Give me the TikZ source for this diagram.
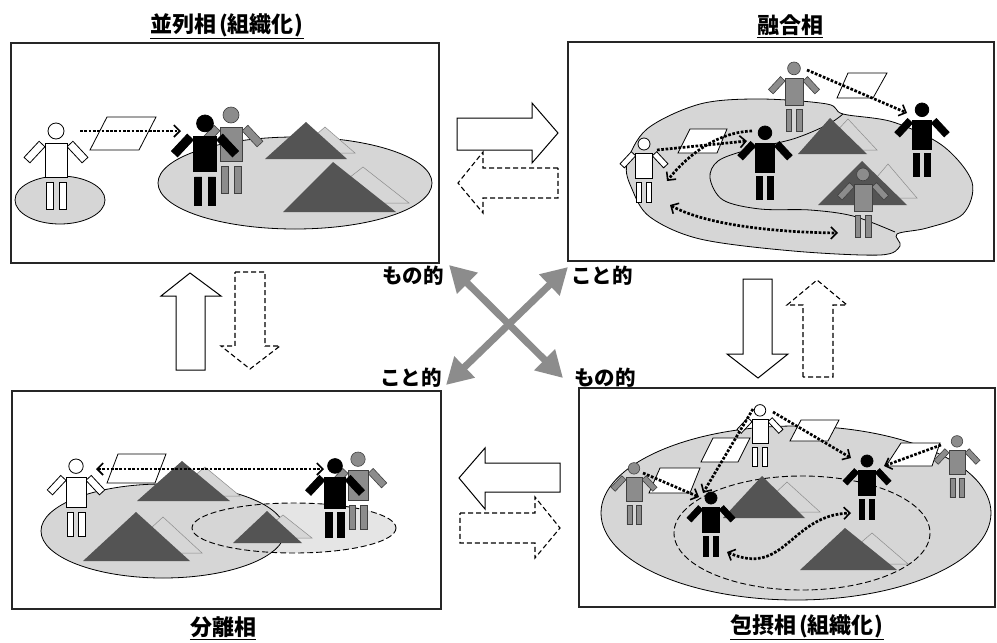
\documentclass[tikz,border=0pt]{standalone}
\usepackage{fontspec}
\newfontfamily\jp{Noto Sans CJK JP}
\usetikzlibrary{arrows.meta}
\definecolor{blobfill}{gray}{0.84}
\definecolor{innerfill}{gray}{0.90}
\definecolor{darktri}{gray}{0.33}
\definecolor{lighttri}{gray}{0.84}
\definecolor{midgray}{gray}{0.55}
\tikzset{
  panel/.style={draw=black!85, line width=1.3pt},
  blob/.style={fill=blobfill, draw=black, line width=0.8pt},
  dtri/.style={fill=darktri},
  ltri/.style={fill=lighttri, draw=black!45, line width=0.5pt},
  doc/.style={fill=white, draw=black, line width=0.8pt},
  pw/.style={fill=white, draw=black, line width=0.8pt},
  pb/.style={fill=black, draw=black, line width=0.8pt},
  pg/.style={fill=midgray, draw=black!75, line width=0.6pt},
  barb/.tip={Straight Barb[length=6pt,width=12pt,line width=1.6pt]},
  flow/.style={line width=2.7pt, dash pattern=on 2.7pt off 1.6pt, -barb},
  flowboth/.style={flow, barb-barb},
  bigarrow/.style={fill=white, draw=black, line width=1pt, line join=miter},
  bigarrowdash/.style={bigarrow, draw=black, line width=1.1pt, dash pattern=on 5pt off 3pt},
  cross/.style={draw=midgray, line width=7pt,
    {Triangle[length=26pt,width=28pt]}-{Triangle[length=26pt,width=28pt]}},
  title/.style={font=\jp\bfseries\fontsize{22}{25}\selectfont, inner sep=0pt},
  tag/.style={font=\jp\bfseries\fontsize{20.5}{23}\selectfont, inner sep=0pt},
  pics/person/.style={code={
    % legs
    \path[pic actions] (-10,39) rectangle (-3,66) (3,39) rectangle (10,66);
    % arms
    \path[pic actions, shift={(-14,1)}, rotate=-43] (-4,0) rectangle (4,22);
    \path[pic actions, shift={(14,1)}, rotate=43] (-4,0) rectangle (4,22);
    % body and head
    \path[pic actions] (-11,0) rectangle (11,34);
    \path[pic actions] (0,-12) circle[radius=8];
  }}
}
\begin{document}
\begin{tikzpicture}[x=1pt,y=-1pt]
\useasboundingbox (0,0) rectangle (997,643);
\fill[white] (0,0) rectangle (997,643);

% ---------- titles ----------
\node[title] (t1) at (227,25) {並列相\kern3pt(組織化\kern1pt)};
\node[title] (t2) at (790,25) {融合相};
\node[title] (t3) at (223,627) {分離相};
\node[title] (t4) at (807,626) {包摂相\kern3pt(組織化\kern1pt)};
\foreach \t in {t1,t2,t3,t4}
  \draw[line width=1.3pt] ([yshift=-1.5pt]\t.south west) -- ([yshift=-1.5pt]\t.south east);

% ---------- upper left panel ----------
\draw[panel] (11,43) rectangle (439,263);
\draw[blob] (60,200) ellipse[x radius=45, y radius=24];
\pic[pw] at (56,143) {person};
\draw[doc] (90,150) -- (107,117) -- (156,117) -- (139,150) -- cycle;
\coordinate (a1s) at (80,131);
\coordinate (a1e) at (181,131);
\draw[flow] (a1s) -- (a1e);
\draw[blob] (295,183) ellipse[x radius=137, y radius=46];
\draw[ltri] (295,153) -- (325,127) -- (355,153) -- cycle;
\fill[dtri] (265,159) -- (306,122) -- (347,159) -- cycle;
\draw[ltri] (317,203) -- (363,167) -- (409,203) -- cycle;
\fill[dtri] (283,212) -- (333,162) -- (396,212) -- cycle;
\pic[pg] at (231,127) {person};
\pic[pb, scale=1.05] at (205,136) {person};

% ---------- upper right panel ----------
\draw[panel] (568,42) rectangle (994,261);
\draw[blob] plot[smooth cycle, tension=0.55] coordinates {
  (627,164) (647,129) (700,104) (760,99) (827,104) (843,114) (893,122)
  (943,146) (972,182) (963,214) (927,228) (897,234) (900,246) (880,255)
  (793,251) (700,239) (650,217) (632,189)};
\draw[line width=0.8pt] plot[smooth, tension=0.55] coordinates {
  (895,232) (853,216) (810,210) (760,209) (723,200) (710,178) (718,161)
  (747,150) (793,139) (827,125) (843,114)};
\draw[ltri] (819,150) -- (848,119) -- (877,150) -- cycle;
\fill[dtri] (798,154) -- (830,118) -- (867,154) -- cycle;
\draw[ltri] (859,198) -- (888,164) -- (917,198) -- cycle;
\fill[dtri] (818,205) -- (862,161) -- (907,205) -- cycle;
\pic[pg, scale=0.8] at (794,78) {person};
\pic[pb, scale=0.85] at (922,120) {person};
\pic[pw, scale=0.75] at (644,153) {person};
\pic[pb, scale=0.85] at (765,143) {person};
\pic[pg, scale=0.8] at (863,184) {person};
\draw[doc] (837,98) -- (848,73) -- (887,73) -- (873,98) -- cycle;
\draw[doc] (678,153) -- (690,129) -- (727,129) -- (717,153) -- cycle;
\coordinate (b1s) at (807,70);
\coordinate (b1e) at (907,113);
\draw[flow] (b1s) -- (b1e);
\coordinate (b2s) at (657,150);
\coordinate (b2e) at (747,141);
\draw[flow] (b2s) -- (b2e);
\coordinate (b3s) at (752,131);
\coordinate (b3e) at (667,181);
\draw[flow] (b3s) .. controls (720,132) and (690,152) .. (b3e);
\coordinate (b4s) at (670,205);
\coordinate (b4e) at (838,233);
\draw[flowboth] (b4s) .. controls (700,222) and (760,232) .. (b4e);

% ---------- lower left panel ----------
\draw[panel] (12,391) rectangle (441,609);
\fill[innerfill] (294,528) ellipse[x radius=102, y radius=25];
\fill[blobfill] (163,531) ellipse[x radius=122, y radius=47];
\draw[line width=0.8pt] (163,531) ellipse[x radius=122, y radius=47];
\draw[line width=0.9pt, dash pattern=on 6pt off 3pt] (294,528) ellipse[x radius=102, y radius=25];
\draw[ltri] (170,496) -- (205,467) -- (240,496) -- cycle;
\fill[dtri] (137,501) -- (182,461) -- (230,501) -- cycle;
\draw[ltri] (124,553) -- (163,517) -- (202,553) -- cycle;
\fill[dtri] (83,561) -- (136,512) -- (190,561) -- cycle;
\draw[ltri] (254,538) -- (283,515) -- (312,538) -- cycle;
\fill[dtri] (233,543) -- (267,511) -- (302,543) -- cycle;
\pic[pw, scale=0.9] at (76,477) {person};
\draw[doc] (107,483) -- (118,454) -- (166,454) -- (155,483) -- cycle;
\pic[pg, scale=0.9] at (358,470) {person};
\pic[pb, scale=0.92] at (335,477) {person};
\coordinate (c1s) at (96,469);
\coordinate (c1e) at (324,469);
\draw[flowboth] (c1s) -- (c1e);

% ---------- lower right panel ----------
\draw[panel] (579,388) rectangle (995,607);
\draw[blob] (796,513) ellipse[x radius=195, y radius=87];
\draw[line width=0.9pt, dash pattern=on 6pt off 3pt] (802,533) ellipse[x radius=128, y radius=57];
\draw[ltri] (755,512) -- (787,482) -- (820,512) -- cycle;
\fill[dtri] (723,518) -- (762,476) -- (805,518) -- cycle;
\draw[ltri] (836,564) -- (872,533) -- (908,564) -- cycle;
\fill[dtri] (800,570) -- (845,528) -- (897,570) -- cycle;
\draw[doc] (649,493) -- (660,468) -- (700,468) -- (690,493) -- cycle;
\draw[doc] (701,462) -- (713,438) -- (750,438) -- (738,462) -- cycle;
\draw[doc] (790,441) -- (801,420) -- (839,420) -- (828,441) -- cycle;
\draw[doc] (886,466) -- (901,443) -- (940,443) -- (932,466) -- cycle;
\pic[pw, scale=0.72] at (760,419) {person};
\pic[pg, scale=0.72] at (634,477) {person};
\pic[pb, scale=0.75] at (711,507) {person};
\pic[pb, scale=0.75] at (867,470) {person};
\pic[pg, scale=0.72] at (957,450) {person};
\coordinate (d1s) at (643,473);
\coordinate (d1e) at (699,497);
\draw[flow] (d1s) -- (d1e);
\coordinate (d2s) at (753,409);
\coordinate (d2e) at (703,493);
\draw[flow] (d2s) -- (d2e);
\coordinate (d3s) at (773,412);
\coordinate (d3e) at (851,458);
\draw[flow] (d3s) -- (d3e);
\coordinate (d4s) at (941,445);
\coordinate (d4e) at (884,466);
\draw[flow] (d4s) -- (d4e);
\coordinate (d5s) at (727,552);
\coordinate (d5e) at (851,513);
\draw[flowboth] (d5s) .. controls (785,578) and (790,515) .. (d5e);

% ---------- block arrows between panels ----------
\draw[bigarrow] (457,118) -- (532,118) -- (532,103) -- (558,133) -- (532,163) -- (532,150) -- (457,150) -- cycle;
\draw[bigarrowdash] (558,168) -- (483,168) -- (483,152) -- (458,183) -- (483,213) -- (483,198) -- (558,198) -- cycle;
\draw[bigarrow] (560,463) -- (485,463) -- (485,448) -- (459,478) -- (485,509) -- (485,492) -- (560,492) -- cycle;
\draw[bigarrowdash] (460,513) -- (535,513) -- (535,497) -- (560,528) -- (535,558) -- (535,543) -- (460,543) -- cycle;
\draw[bigarrow] (176,370) -- (176,296) -- (161,296) -- (190,273) -- (221,296) -- (205,296) -- (205,370) -- cycle;
\draw[bigarrowdash] (235,272) -- (265,272) -- (265,346) -- (280,346) -- (250,369) -- (221,346) -- (235,346) -- cycle;
\draw[bigarrow] (743,279) -- (772,279) -- (772,354) -- (788,354) -- (758,378) -- (727,354) -- (743,354) -- cycle;
\draw[bigarrowdash] (803,377) -- (803,305) -- (787,305) -- (817,280) -- (847,305) -- (833,305) -- (833,377) -- cycle;

% ---------- crossing arrows and their labels ----------
\coordinate (x1a) at (449,265);
\coordinate (x1b) at (563,378);
\coordinate (x2a) at (568,267);
\coordinate (x2b) at (446,385);
\draw[cross] (x1a) -- (x1b);
\draw[cross] (x2a) -- (x2b);
\node[tag] (m1) at (413,276) {もの的};
\node[tag] (k1) at (602,276) {こと的};
\node[tag] (k2) at (411,378) {こと的};
\node[tag] (m2) at (605,378) {もの的};
\end{tikzpicture}
\end{document}
